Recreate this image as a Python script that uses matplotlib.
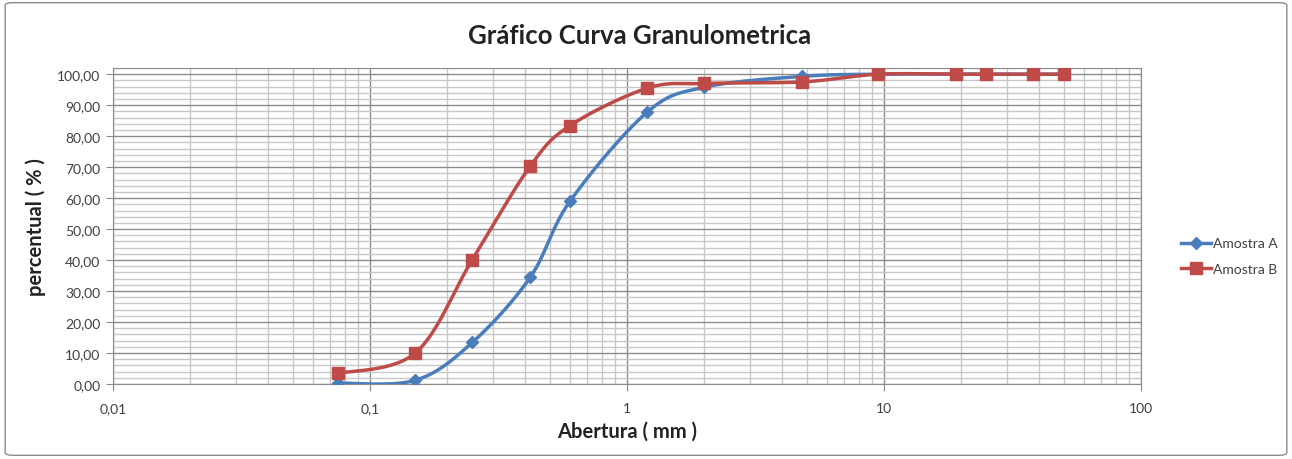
import numpy as np
import matplotlib
matplotlib.use("Agg")
import matplotlib.pyplot as plt
from matplotlib.patches import FancyBboxPatch
from matplotlib.ticker import FixedLocator, FuncFormatter

# sieve openings (mm) and percent passing
abertura = [0.075, 0.15, 0.25, 0.42, 0.6, 1.2, 2.0, 4.8, 9.5, 19, 25, 38, 50]
amostra_a = [0.3, 1.2, 13.4, 34.4, 59.0, 87.8, 95.8, 99.3, 100.0, 100.0, 100.0, 100.0, 100.0]
amostra_b = [3.4, 10.0, 40.1, 70.3, 83.4, 95.5, 97.0, 97.5, 100.0, 100.0, 100.0, 100.0, 100.0]

x_ticks = [0.01, 0.1, 1, 10, 100]
x_labels = ["0,01", "0,1", "1", "10", "100"]

BLUE = "#4A7EBB"
RED = "#BE4B48"
GRID_MAJ = "#8C8C8C"
GRID_MIN = "#C8C8C8"

plt.rcParams["font.family"] = ["Lato", "DejaVu Sans"]


def smooth(xs, ys, n=30):
    # Catmull-Rom style smoothing in log-x space, like Excel's "smoothed line"
    lx = np.log10(xs)
    y = np.asarray(ys, float)
    px = np.concatenate([[lx[0]], lx, [lx[-1]]])
    py = np.concatenate([[y[0]], y, [y[-1]]])
    out_x, out_y = [], []
    for i in range(1, len(px) - 2):
        p0, p1, p2, p3 = (np.array([px[j], py[j]]) for j in range(i - 1, i + 3))
        c1 = p1 + (p2 - p0) / 6
        c2 = p2 - (p3 - p1) / 6
        t = np.linspace(0, 1, n)[:, None]
        seg = ((1 - t) ** 3) * p1 + 3 * ((1 - t) ** 2) * t * c1 + 3 * (1 - t) * t ** 2 * c2 + t ** 3 * p2
        out_x.extend(seg[:, 0])
        out_y.extend(seg[:, 1])
    return 10 ** np.array(out_x), np.array(out_y)


fig = plt.figure(figsize=(12.92, 4.6), dpi=100)
fig.patches.append(FancyBboxPatch((0.004, 0.008), 0.992, 0.984, boxstyle="round,pad=0,rounding_size=0.006",
                                  transform=fig.transFigure, fill=False, edgecolor="#8C8C8C", linewidth=1.0))

ax = fig.add_axes([113 / 1292, 1 - 385 / 460, (1141 - 113) / 1292, (385 - 69) / 460])
ax.set_xscale("log")
ax.set_xlim(0.01, 100)
ax.set_ylim(0, 102)

ax.set_yticks(np.arange(0, 101, 10))
ax.yaxis.set_minor_locator(FixedLocator(np.arange(0, 103, 2)))
ax.yaxis.set_major_formatter(FuncFormatter(lambda v, p: f"{v:.2f}".replace(".", ",")))
ax.set_xticks(x_ticks)
ax.set_xticklabels(x_labels)
ax.xaxis.set_minor_locator(matplotlib.ticker.LogLocator(base=10, subs=np.arange(2, 10)))
ax.xaxis.set_minor_formatter(matplotlib.ticker.NullFormatter())

ax.grid(True, which="major", color=GRID_MAJ, linewidth=1.0)
ax.grid(True, which="minor", color=GRID_MIN, linewidth=1.0)
ax.set_axisbelow(True)
ax.tick_params(which="major", length=5, color=GRID_MAJ, labelsize=10, labelcolor="#404040", pad=4)
ax.tick_params(which="minor", length=0)
ax.tick_params(axis="x", pad=8)
for s in ax.spines.values():
    s.set_color(GRID_MAJ)

sx, sy = smooth(abertura, amostra_a)
ax.plot(sx, sy, color=BLUE, linewidth=2.5, zorder=3)
ax.plot(abertura, amostra_a, linestyle="none", marker="D", markersize=6, color=BLUE, zorder=4)
sx, sy = smooth(abertura, amostra_b)
ax.plot(sx, sy, color=RED, linewidth=2.5, zorder=5)
ax.plot(abertura, amostra_b, linestyle="none", marker="s", markersize=8, color=RED, zorder=6)

# legend proxies (line + marker)
ax.plot([], [], color=BLUE, linewidth=2.5, marker="D", markersize=6, label="Amostra A")
ax.plot([], [], color=RED, linewidth=2.5, marker="s", markersize=8, label="Amostra B")
handles, labels = ax.get_legend_handles_labels()
fig.legend(handles, labels, loc="center left", bbox_to_anchor=(1168 / 1292, 1 - 257 / 460),
           frameon=False, fontsize=10, handlelength=2.2, handletextpad=0.15, labelspacing=0.95,
           labelcolor="#404040")

ax.set_xlabel("Abertura ( mm )", fontsize=14.5, fontweight="bold", color="#222222", labelpad=5)
ax.set_ylabel("percentual ( % )", fontsize=14.5, fontweight="bold", color="#222222", labelpad=8)
fig.text(640 / 1292, 1 - 36 / 460, "Gráfico Curva Granulometrica", ha="center", va="center",
         fontsize=18.5, fontweight="bold", color="#222222")

plt.savefig("out.png", dpi=100)
plt.close()
